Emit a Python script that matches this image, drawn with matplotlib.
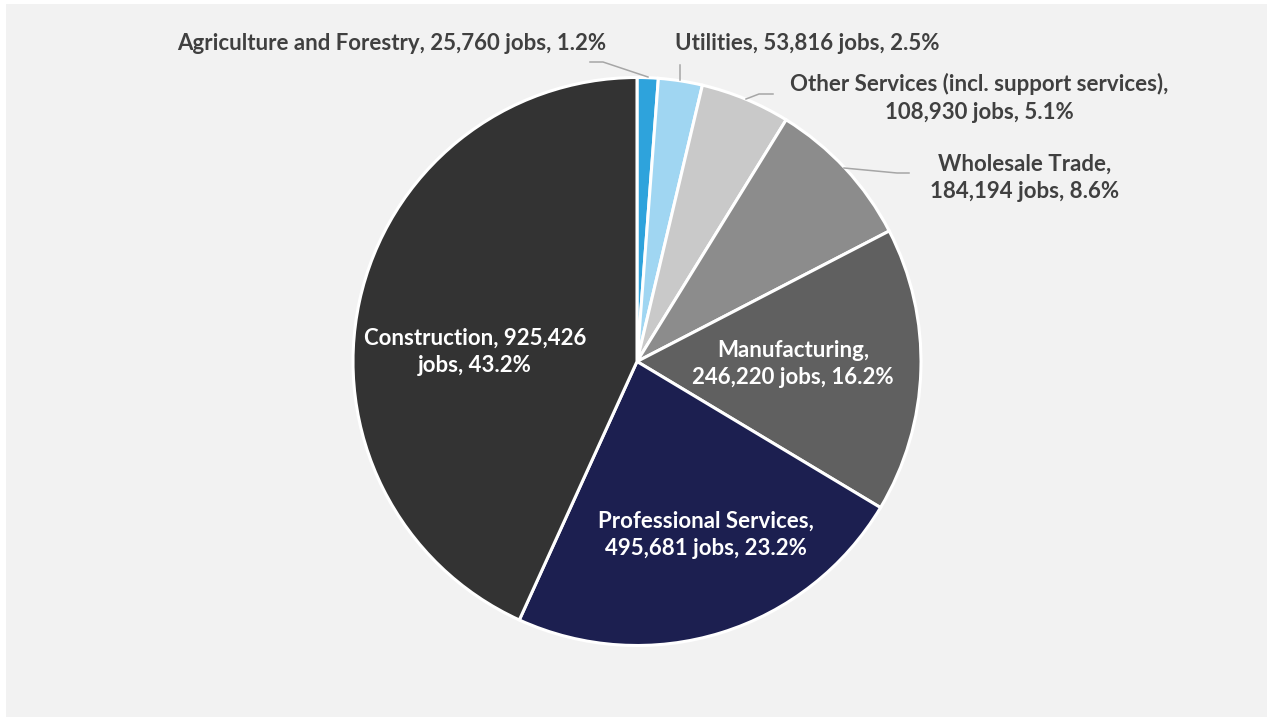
import matplotlib.pyplot as plt
from matplotlib.patches import Rectangle

sectors = ["Agriculture and Forestry", "Utilities",
           "Other Services (incl. support services)", "Wholesale Trade",
           "Manufacturing", "Professional Services", "Construction"]
jobs = [25760, 53816, 108930, 184194, 246220, 495681, 925426]
shares = [1.2, 2.5, 5.1, 8.6, 16.2, 23.2, 43.2]
colors = ["#2ea3dc", "#a0d6f2", "#c9c9c9", "#8c8c8c", "#606060", "#1c1f50", "#333333"]

W, H = 1267, 717
fig = plt.figure(figsize=(W / 100, H / 100), dpi=100)
ax = fig.add_axes([0, 0, 1, 1])

# panel background
ax.add_patch(Rectangle((6, 0), W - 6, H - 4, facecolor="#f2f2f2", edgecolor="none", zorder=0))

cx, cy, r = 637, H - 361.5, 284
ax.pie(shares, colors=colors, startangle=90, counterclock=False,
       center=(cx, cy), radius=r, frame=True,
       wedgeprops=dict(edgecolor="white", linewidth=2.2))
ax.set_xlim(0, W)
ax.set_ylim(0, H)
ax.set_aspect("equal")
ax.axis("off")

font = dict(family="Lato", fontweight="bold", fontsize=16)
dark = "#404040"
spacing = 1.38

def label(i, linebreak=None):
    name = sectors[i]
    if linebreak:
        return f"{name},\n{jobs[i]:,} jobs, {shares[i]}%"
    return f"{name}, {jobs[i]:,} jobs, {shares[i]}%"

# outside labels with leader lines (y measured from top)
outside = [
    (0, 392, 44, False, [(590, 62), (603, 62), (648, 77)]),
    (1, 807, 44, False, [(680, 65), (680, 80)]),
    (2, 979, 98, True, [(773, 94), (759, 94), (746, 99)]),
    (3, 1025, 178, True, [(909, 173), (897, 173), (844, 168)]),
]
for i, x, y, lb, pts in outside:
    ax.text(x, H - y, label(i, lb), ha="center", va="center", color=dark,
            linespacing=spacing, **font)
    ax.plot([p[0] for p in pts], [H - p[1] for p in pts], color="#a6a6a6", lw=1.1)

# inside labels
ax.text(475, H - 352, f"{sectors[6]}, {jobs[6]:,}\njobs, {shares[6]}%", ha="center",
        va="center", color="white", linespacing=spacing, **font)
ax.text(793, H - 364, label(4, True), ha="center", va="center", color="white",
        linespacing=spacing, **font)
ax.text(706, H - 535, label(5, True), ha="center", va="center", color="white",
        linespacing=spacing, **font)

fig.savefig("out.png", dpi=100)
